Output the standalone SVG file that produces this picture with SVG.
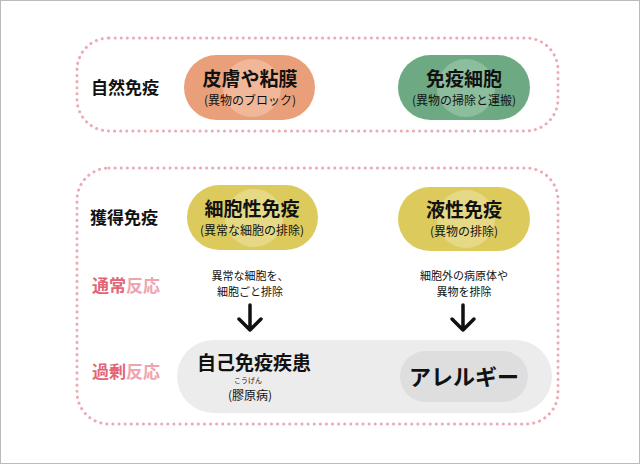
<svg xmlns="http://www.w3.org/2000/svg" width="640" height="464" viewBox="0 0 640 464">
<style>
text{font-family:"Noto Sans CJK JP","Noto Sans",sans-serif;text-anchor:middle;fill:#111}
.b{font-weight:bold}
.frame{fill:none;stroke:#ecaab4;stroke-width:3;stroke-dasharray:0.1 6;stroke-linecap:round}
.sub{font-size:12px}
.lbl{font-size:17px;font-weight:bold}
.dark{fill:#e06676}.light{fill:#f0a4ae}
.arr{stroke:#111;stroke-width:3.5;fill:none;stroke-linecap:round;stroke-linejoin:round}
</style>
<rect width="640" height="464" fill="#fff"/>
<rect x="0.5" y="0.5" width="639" height="463" fill="none" stroke="#bbb"/>
<rect class="frame" x="77" y="38" width="481" height="93" rx="32"/>
<rect class="frame" x="77" y="168" width="481" height="256" rx="32"/>
<g id="label-natural"><text class="lbl" x="125" y="94">自然免疫</text></g>
<g id="label-acquired"><text class="lbl" x="124" y="224">獲得免疫</text></g>
<g id="label-normal"><text class="lbl" x="126" y="292"><tspan class="dark">通常</tspan><tspan class="light">反応</tspan></text></g>
<g id="label-excess"><text class="lbl" x="126" y="378"><tspan class="dark">過剰</tspan><tspan class="light">反応</tspan></text></g>
<g id="skin">
<rect x="184" y="55" width="131" height="65" rx="32.5" fill="#e9a07a"/>
<circle cx="252" cy="88" r="29" fill="#f0b898"/>
<text class="b" x="250" y="86" font-size="19">皮膚や粘膜</text>
<text class="sub" x="250" y="105">(異物のブロック)</text>
</g>
<g id="immune-cell">
<rect x="398" y="55" width="132" height="65" rx="32.5" fill="#6daa84"/>
<circle cx="466" cy="88" r="29" fill="#8cbe9d"/>
<text class="b" x="464" y="86" font-size="19">免疫細胞</text>
<text class="sub" x="464" y="105">(異物の掃除と運搬)</text>
</g>
<g id="cellular">
<rect x="187" y="185" width="131" height="65" rx="32.5" fill="#dccb5c"/>
<circle cx="254" cy="218" r="29" fill="#e6d986"/>
<text class="b" x="252" y="216" font-size="19">細胞性免疫</text>
<text class="sub" x="252" y="235">(異常な細胞の排除)</text>
</g>
<g id="humoral">
<rect x="398" y="187" width="132" height="64" rx="32" fill="#dccb5c"/>
<circle cx="466" cy="219" r="29" fill="#e6d986"/>
<text class="b" x="464" y="217" font-size="19">液性免疫</text>
<text class="sub" x="464" y="236">(異物の排除)</text>
</g>
<g id="note-cellular">
<text x="250" y="280" font-size="11">異常な細胞を、</text>
<text x="250" y="296" font-size="11">細胞ごと排除</text>
</g>
<g id="note-humoral">
<text x="464" y="280" font-size="11">細胞外の病原体や</text>
<text x="464" y="296" font-size="11">異物を排除</text>
</g>
<g id="connectors">
<path class="arr" d="M250 305V330M239 319L250 330L261 319"/>
<path class="arr" d="M463 305V330M452 319L463 330L474 319"/>
</g>
<g id="excess">
<rect x="177" y="340" width="375" height="73" rx="36.5" fill="#ececec"/>
<text class="b" x="254" y="370" font-size="19">自己免疫疾患</text>
<text x="248" y="383" font-size="7">こうげん</text>
<text class="sub" x="250" y="400">(膠原病)</text>
</g>
<g id="allergy">
<rect x="400" y="351" width="128" height="51" rx="25.5" fill="#dedede"/>
<text class="b" x="464" y="385" font-size="22">アレルギー</text>
</g>
</svg>
